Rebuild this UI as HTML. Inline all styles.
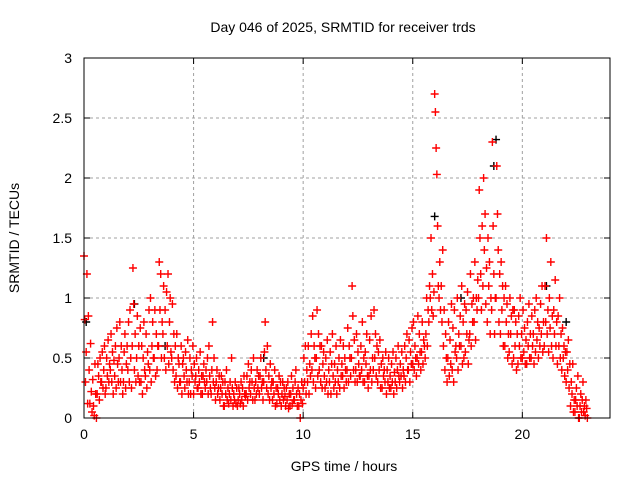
<!DOCTYPE html>
<html><head><meta charset="utf-8"><style>
body{margin:0;background:#fff}
svg text{font-family:"Liberation Sans",sans-serif;font-size:14px;fill:#000}
</style></head><body>
<svg id="chart" width="640" height="480">
<rect width="640" height="480" fill="#fff"/>
<g id="grid"></g>
<g id="marks"></g>
<rect x="84" y="58" width="526" height="360" fill="none" stroke="#000" stroke-width="1"/>
<g id="ticks"></g>
<text x="343" y="32" text-anchor="middle">Day 046 of 2025, SRMTID for receiver trds</text>
<text x="344" y="471" text-anchor="middle">GPS time / hours</text>
<text transform="translate(19,238) rotate(-90)" text-anchor="middle">SRMTID / TECUs</text>
</svg>
<script>
const xTicks=[0,5,10,15,20];
const yTicks=[0,0.5,1,1.5,2,2.5,3];
const yTickLabels=["0","0.5","1","1.5","2","2.5","3"];
const binWidth=0.2;
const redValues=[
[1.35,0.82,0.3,0.55,1.2,0.12],[0.85,0.4,0.12,0.62,0.22,0.05],[0.32,0.1,0.02,0.45,0.2,0.0],[0.2,0.45,0.35,0.15,0.5,0.3],[0.3,0.55,0.25,0.4,0.6,0.2],
[0.25,0.5,0.35,0.65,0.3,0.45],[0.4,0.7,0.3,0.55,0.2,0.48],[0.35,0.6,0.25,0.75,0.45,0.3],[0.5,0.8,0.3,0.6,0.4,0.2],[0.3,0.55,0.7,0.25,0.45,0.6],
[0.4,0.8,0.3,0.9,0.5,0.25],[0.6,1.25,0.95,0.4,0.7,0.3],[0.5,0.85,0.35,0.6,0.3,0.75],[0.3,0.6,0.2,0.5,0.8,0.4],[0.35,0.7,0.25,0.55,0.45,0.9],
[0.4,1.0,0.3,0.6,0.8,0.5],[0.5,0.9,0.35,0.7,0.4,0.6],[0.6,1.3,0.9,1.2,0.5,0.8],[0.7,1.1,0.5,0.9,0.4,1.05],[0.6,1.2,0.45,0.8,1.0,0.55],
[0.5,0.95,0.4,0.7,0.3,0.6],[0.35,0.7,0.25,0.5,0.45,0.3],[0.3,0.6,0.2,0.45,0.5,0.35],[0.25,0.55,0.4,0.3,0.65,0.2],[0.3,0.5,0.2,0.4,0.35,0.6],
[0.2,0.45,0.3,0.35,0.5,0.25],[0.25,0.4,0.3,0.55,0.2,0.35],[0.2,0.35,0.45,0.3,0.25,0.4],[0.3,0.5,0.2,0.6,0.35,0.25],[0.2,0.4,0.8,0.3,0.5,0.25],
[0.15,0.3,0.4,0.2,0.25,0.35],[0.15,0.25,0.35,0.2,0.3,0.1],[0.1,0.3,0.2,0.4,0.15,0.25],[0.12,0.2,0.3,0.15,0.5,0.25],[0.1,0.2,0.15,0.3,0.12,0.25],
[0.1,0.15,0.25,0.2,0.12,0.3],[0.15,0.25,0.1,0.35,0.2,0.18],[0.2,0.35,0.15,0.45,0.25,0.3],[0.2,0.4,0.3,0.15,0.5,0.25],[0.15,0.3,0.2,0.4,0.25,0.35],
[0.2,0.35,0.5,0.25,0.3,0.15],[0.3,0.55,0.8,0.4,0.25,0.6],[0.2,0.35,0.15,0.45,0.25,0.3],[0.15,0.3,0.2,0.4,0.1,0.25],[0.12,0.25,0.2,0.35,0.15,0.3],
[0.1,0.2,0.3,0.15,0.25,0.18],[0.1,0.25,0.15,0.3,0.08,0.2],[0.1,0.2,0.35,0.12,0.25,0.15],[0.15,0.3,0.4,0.2,0.1,0.25],[0.1,0.2,0.0,0.15,0.3,0.12],
[0.25,0.5,0.3,0.6,0.2,0.4],[0.3,0.6,0.2,0.45,0.35,0.7],[0.4,0.85,0.3,0.6,0.5,0.25],[0.5,0.9,0.35,0.7,0.4,0.6],[0.3,0.6,0.25,0.45,0.55,0.35],
[0.25,0.5,0.3,0.65,0.2,0.4],[0.3,0.55,0.2,0.45,0.7,0.35],[0.25,0.45,0.3,0.6,0.2,0.4],[0.3,0.5,0.25,0.65,0.35,0.45],[0.35,0.6,0.25,0.5,0.4,0.3],
[0.4,0.75,0.3,0.6,0.5,0.35],[0.5,1.1,0.85,0.4,0.65,0.3],[0.4,0.7,0.3,0.55,0.45,0.35],[0.35,0.6,0.4,0.8,0.3,0.5],[0.3,0.55,0.45,0.7,0.35,0.25],
[0.35,0.65,0.4,0.85,0.3,0.5],[0.4,0.9,0.5,0.7,0.35,0.6],[0.3,0.55,0.4,0.65,0.25,0.45],[0.25,0.5,0.35,0.4,0.3,0.55],[0.2,0.4,0.3,0.5,0.25,0.35],
[0.25,0.45,0.3,0.55,0.2,0.38],[0.3,0.5,0.25,0.4,0.6,0.35],[0.3,0.45,0.35,0.55,0.25,0.4],[0.35,0.6,0.3,0.5,0.7,0.4],[0.4,0.65,0.3,0.55,0.45,0.75],
[0.45,0.8,0.4,0.6,0.5,0.35],[0.5,0.85,0.45,0.7,0.55,0.4],[0.55,0.8,0.45,0.65,0.6,0.5],[0.7,1.0,0.6,0.9,0.8,1.1],[1.0,1.5,0.9,1.2,0.85,1.05],
[2.7,2.55,2.25,2.03,1.6,1.1],[1.0,1.3,0.9,1.1,0.8,1.4],[0.6,0.9,0.4,0.7,0.5,0.3],[0.5,0.8,0.35,0.65,0.45,0.95],[0.4,0.75,0.3,0.9,0.55,0.6],
[0.5,1.0,0.4,0.7,0.6,0.85],[0.6,1.1,0.45,0.8,0.5,0.95],[0.55,0.9,0.7,1.05,0.45,0.65],[0.7,1.2,0.6,0.95,0.8,1.0],[0.8,1.3,0.65,1.0,0.9,1.15],
[1.0,1.9,1.5,1.2,0.9,1.6],[1.1,2.0,1.4,1.7,0.95,1.25],[0.8,1.5,1.1,1.3,0.7,1.0],[0.9,2.3,1.6,1.2,0.7,1.0],[1.0,2.1,1.7,1.4,0.8,1.2],
[0.7,1.3,0.9,1.1,0.6,1.0],[0.6,1.1,0.8,0.95,0.5,0.7],[0.55,1.0,0.7,0.85,0.45,0.9],[0.5,0.9,0.6,0.8,0.4,0.7],[0.45,0.85,0.6,1.0,0.5,0.7],
[0.5,0.9,0.55,0.75,0.45,0.65],[0.45,0.8,0.6,0.95,0.5,0.7],[0.5,0.85,0.6,0.7,0.45,0.9],[0.55,1.0,0.65,0.8,0.5,0.75],[0.6,0.95,0.7,1.1,0.55,0.8],
[0.6,1.1,0.8,1.5,0.7,0.9],[0.55,1.0,0.75,1.3,0.6,0.85],[0.5,0.9,0.7,1.15,0.6,0.8],[0.45,0.85,0.6,1.0,0.5,0.7],[0.4,0.75,0.5,0.6,0.35,0.55],
[0.3,0.55,0.4,0.65,0.25,0.45],[0.1,0.3,0.2,0.45,0.05,0.15],[0.05,0.15,0.25,0.1,0.35,0.0],[0.0,0.1,0.2,0.05,0.15,0.3],[0.05,0.1,0.02,0.15,0.08,0.0]
];
const blackTimes=[0.1,2.3,3.7,8.2,16.0,17.2,18.7,18.8,21.1,22.0];
const blackValues=[0.8,0.95,0.6,0.5,1.68,1.0,2.1,2.32,1.1,0.8];

const X0=84,X1=610,Y0=418,Y1=58,XMAX=24,YMAX=3;
const xs=v=>X0+(X1-X0)*v/XMAX;
const ys=v=>Y0-(Y0-Y1)*v/YMAX;
const NS="http://www.w3.org/2000/svg";
const grid=document.getElementById('grid'),marks=document.getElementById('marks'),ticks=document.getElementById('ticks');
function mk(tag,attrs,parent){const e=document.createElementNS(NS,tag);for(const k in attrs)e.setAttribute(k,attrs[k]);parent.appendChild(e);return e;}
xTicks.forEach(t=>{
  const x=xs(t);
  if(t>0){const g=mk('line',{x1:x,x2:x,y1:Y0,y2:Y1,stroke:'#a0a0a0','stroke-dasharray':'3,3'},grid);
  
  }
  const tl=mk('line',{x1:x,x2:x,y1:Y0,y2:Y0-6,stroke:'#000'},ticks);
  
  
  mk('line',{x1:x,x2:x,y1:Y1,y2:Y1+6,stroke:'#000'},ticks);
  const lb=mk('text',{x:x,y:Y0+21,'text-anchor':'middle'},ticks);lb.textContent=t;
  
  
});
yTicks.forEach((t,i)=>{
  const y=ys(t);
  if(t>0&&t<YMAX){const g=mk('line',{x1:X0,x2:X1,y1:y,y2:y,stroke:'#a0a0a0','stroke-dasharray':'3,3'},grid);
  
  }
  const tl=mk('line',{x1:X0,x2:X0+6,y1:y,y2:y,stroke:'#000'},ticks);
  
  
  mk('line',{x1:X1,x2:X1-6,y1:y,y2:y,stroke:'#000'},ticks);
  const lb=mk('text',{x:X0-12,y:y+5,'text-anchor':'end'},ticks);lb.textContent=yTickLabels[i];
  
  
});
function plus(t,v,color,name){
  const x=xs(t),y=ys(v);
  const p=mk('path',{d:`M${x-4},${y}H${x+4}M${x},${y-4}V${y+4}`,stroke:color,'stroke-width':1.4,fill:'none'},marks);
  
  
}
blackTimes.forEach((t,i)=>plus(t,blackValues[i],'#000','black-point'));
redValues.forEach((bin,b)=>{
  bin.forEach((v,j)=>plus(b*binWidth+j*binWidth/bin.length,v,'#ff0000','red-point'));
});
</script>
</body></html>
